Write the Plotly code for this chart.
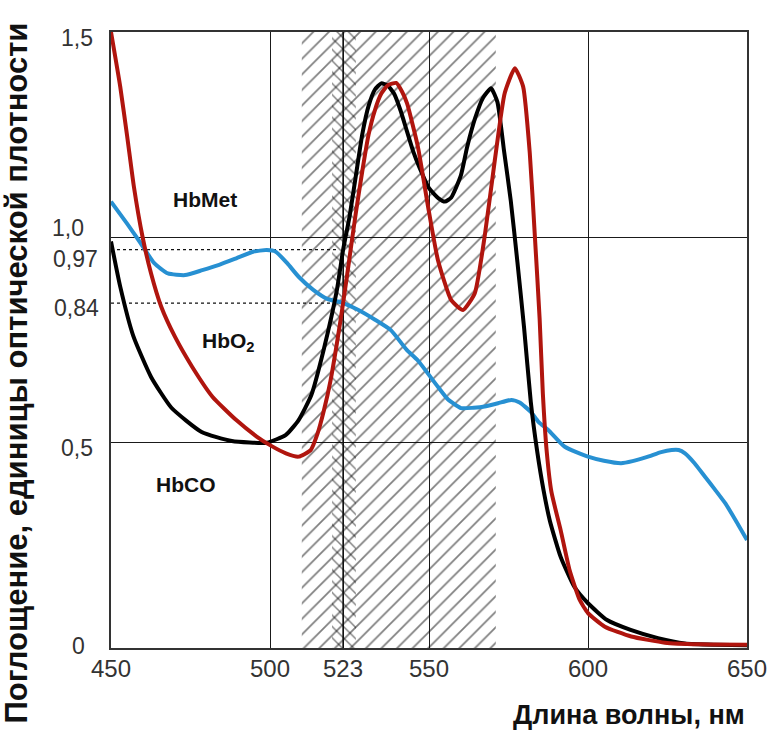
import plotly.graph_objects as go

# ---------------- data ----------------
hbco_wl = [450, 452.9, 457, 462.6, 469, 478.5, 488, 499, 505, 509, 513, 517, 521, 523, 525, 527, 529, 531, 533,
           535, 537, 539, 541, 543, 545, 547, 550, 553, 555, 557, 560, 562, 564.5, 567, 569.5, 571.5, 573.6,
           575.7, 577.8, 579.9, 582, 584, 586, 588, 591.4, 595.7, 600, 606, 613.4, 622, 630.5, 640, 650]
hbco_abs = [0.99, 0.88, 0.76, 0.66, 0.585, 0.526, 0.504, 0.50, 0.519, 0.555, 0.616, 0.73, 0.87, 0.97, 1.05,
            1.15, 1.25, 1.32, 1.36, 1.375, 1.37, 1.35, 1.31, 1.26, 1.21, 1.17, 1.12, 1.095, 1.087, 1.097, 1.15,
            1.22, 1.29, 1.34, 1.363, 1.33, 1.21, 1.09, 0.94, 0.78, 0.60, 0.48, 0.385, 0.31, 0.222, 0.149,
            0.109, 0.068, 0.044, 0.024, 0.011, 0.008, 0.007]

hbo2_wl = [450, 452.9, 455.1, 457.2, 459.9, 462.6, 465.8, 470.1, 475.5, 481.9, 489.4, 495.8, 500, 505, 509,
           512.8, 515, 517, 519, 521, 523, 525, 527, 529, 531, 533, 535, 537, 539.7, 541.5, 543.1, 546.5,
           549.7, 552.8, 557, 560.7, 564.4, 567.5, 570.7, 573.8, 577, 579.6, 581.7, 583.3, 584.8, 585.8, 587,
           588.5, 591.4, 594.2, 597.4, 600, 605.3, 613.6, 624.2, 635, 650]
hbo2_abs = [1.50, 1.367, 1.245, 1.123, 1.002, 0.912, 0.831, 0.758, 0.685, 0.612, 0.555, 0.515, 0.494, 0.474,
            0.466, 0.482, 0.523, 0.58, 0.65, 0.74, 0.84, 0.95, 1.06, 1.16, 1.25, 1.31, 1.35, 1.37, 1.376,
            1.355, 1.326, 1.221, 1.075, 0.945, 0.847, 0.823, 0.864, 1.002, 1.188, 1.351, 1.412, 1.367, 1.204,
            1.002, 0.80, 0.62, 0.48, 0.38, 0.287, 0.19, 0.117, 0.085, 0.052, 0.028, 0.013, 0.009, 0.008]

hbmet_wl = [450, 455, 459.4, 463.6, 467.9, 473.3, 478.7, 484, 489.4, 494.7, 499, 501.8, 505.4, 509, 513.6,
            518, 523, 527.8, 532.9, 538, 543, 546.5, 552.8, 556, 560.1, 564, 567.5, 571.7, 575.9, 578.5, 582,
            584.5, 587.5, 592.7, 600, 605, 610.4, 614, 618.9, 623, 626.3, 628.5, 630.5, 633.5, 636.8, 640,
            643.2, 646.5, 650]
hbmet_abs = [1.087, 1.034, 0.985, 0.937, 0.912, 0.908, 0.92, 0.933, 0.949, 0.965, 0.969, 0.965, 0.937, 0.904,
             0.872, 0.85, 0.84, 0.823, 0.80, 0.774, 0.726, 0.70, 0.636, 0.605, 0.584, 0.585, 0.588, 0.596,
             0.604, 0.598, 0.575, 0.55, 0.531, 0.49, 0.466, 0.456, 0.45, 0.455, 0.466, 0.477, 0.482, 0.482,
             0.474, 0.45, 0.417, 0.385, 0.352, 0.31, 0.263]

x_ticks = [450, 500, 523, 550, 600, 650]
x_tick_text = ["450", "500", "523", "550", "600", "650"]
y_ticks = [1.5, 1.0, 0.97, 0.84, 0.5, 0]
y_tick_text = ["1,5", "1,0", "0,97", "0,84", "0,5", "0"]
y_label_dx = [-34, -43, -36, -35, -34, -33]   # label centre offset from the axis, px
y_label_dy = [-6, 9, -9, -5, -5, 2]

hatch_band = [510, 571]
dense_band = [519.5, 527]
marked_wl = 523
marked_levels = [0.97, 0.84]

series_labels = ["<b>HbMet</b>", "<b>HbO<sub>2</sub></b>", "<b>HbCO</b>"]
label_x = [479.6, 487.0, 473.6]
label_y = [1.091, 0.745, 0.397]

TICKFONT = "Liberation Sans, Arial, sans-serif"
BOLD = "Liberation Sans, Arial, sans-serif"

fig = go.Figure()

# hatched wavelength band
fig.add_trace(go.Scatter(
    x=[hatch_band[0], hatch_band[1], hatch_band[1], hatch_band[0], hatch_band[0]],
    y=[0, 0, 1.5, 1.5, 0], mode="lines", line=dict(width=0), fill="toself",
    fillcolor="rgba(0,0,0,0)",
    fillpattern=dict(shape="/", size=11, solidity=0.16, fgcolor="#000", bgcolor="rgba(0,0,0,0)"),
    hoverinfo="skip", showlegend=False))
fig.add_trace(go.Scatter(
    x=[dense_band[0], dense_band[1], dense_band[1], dense_band[0], dense_band[0]],
    y=[0, 0, 1.5, 1.5, 0], mode="lines", line=dict(width=0), fill="toself",
    fillcolor="rgba(0,0,0,0)",
    fillpattern=dict(shape="\\", size=8, solidity=0.18, fgcolor="#000", bgcolor="rgba(0,0,0,0)"),
    hoverinfo="skip", showlegend=False))

# dotted reference levels
for lv in marked_levels:
    fig.add_trace(go.Scatter(x=[450, marked_wl - 2], y=[lv, lv], mode="lines",
                             line=dict(color="#111", width=1.3, dash="dot"),
                             hoverinfo="skip", showlegend=False))

# the 523 nm line
fig.add_trace(go.Scatter(x=[marked_wl, marked_wl], y=[0, 1.5], mode="lines",
                         line=dict(color="#111", width=1.6), hoverinfo="skip", showlegend=False))

# spectra
fig.add_trace(go.Scatter(x=hbmet_wl, y=hbmet_abs, mode="lines", name="HbMet",
                         line=dict(color="#2790d2", width=4, shape="spline", smoothing=0.5)))
fig.add_trace(go.Scatter(x=hbco_wl, y=hbco_abs, mode="lines", name="HbCO",
                         line=dict(color="#000000", width=4, shape="spline", smoothing=0.5)))
fig.add_trace(go.Scatter(x=hbo2_wl, y=hbo2_abs, mode="lines", name="HbO2",
                         line=dict(color="#b0150e", width=4, shape="spline", smoothing=0.5)))

annotations = []
for v, t, dx, dy in zip(y_ticks, y_tick_text, y_label_dx, y_label_dy):
    annotations.append(dict(x=0, xref="paper", y=v, yref="y", text=t, showarrow=False,
                            xanchor="center", yanchor="middle", xshift=dx, yshift=dy,
                            font=dict(family=TICKFONT, size=23, color="#333")))
for v, t in zip(x_ticks, x_tick_text):
    annotations.append(dict(x=v, xref="x", y=0, yref="paper", text=t, showarrow=False,
                            xanchor="center", yanchor="top", yshift=-5,
                            font=dict(family=TICKFONT, size=24, color="#333")))
for t, lx, ly in zip(series_labels, label_x, label_y):
    annotations.append(dict(x=lx, y=ly, xref="x", yref="y", text=t, showarrow=False,
                            font=dict(family=BOLD, size=21, color="#111"), xanchor="center",
                            yanchor="middle"))
annotations.append(dict(x=1.0, xref="paper", y=-0.108, yref="paper", text="<b>Длина волны, нм</b>",
                        showarrow=False, xanchor="right", yanchor="middle",
                        font=dict(family=BOLD, size=27, color="#111")))
annotations.append(dict(x=-0.148, xref="paper", y=0.447, yref="paper",
                        text="<b>Поглощение, единицы оптической плотности</b>", textangle=-90,
                        showarrow=False, xanchor="center", yanchor="middle",
                        font=dict(family=BOLD, size=31, color="#111")))

fig.update_layout(
    width=768, height=739,
    margin=dict(l=111, r=21, t=32, b=91),
    paper_bgcolor="white", plot_bgcolor="white",
    showlegend=False,
    annotations=annotations,
    xaxis=dict(range=[450, 650], tickvals=x_ticks, showticklabels=False, showgrid=True,
               gridcolor="#1a1a1a", gridwidth=1, zeroline=False, showline=True, mirror=True,
               linecolor="#333", linewidth=1.5, ticks=""),
    yaxis=dict(range=[0, 1.5], tickvals=[0.5, 1.0], showticklabels=False, showgrid=True,
               gridcolor="#1a1a1a", gridwidth=1, zeroline=False, showline=True, mirror=True,
               linecolor="#333", linewidth=1.5, ticks=""),
)

fig.write_html("out.html", config={"displayModeBar": False},
               post_script="document.body.style.margin='0';")
